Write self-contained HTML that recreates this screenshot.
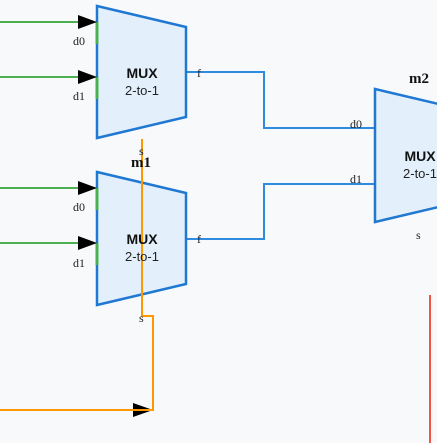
<!DOCTYPE html>
<html><head><meta charset="utf-8"><style>
html,body{margin:0;padding:0;background:#f7f9fb;}
svg{display:block}
.mux{font-family:"Liberation Sans",sans-serif;font-weight:bold;font-size:14px;fill:#111}
.sub{font-family:"Liberation Sans",sans-serif;font-size:13px;fill:#222}
.pin{font-family:"Liberation Serif",serif;font-size:12px;fill:#222}
.ttl{font-family:"Liberation Serif",serif;font-weight:bold;font-size:15px;fill:#111}
</style></head><body>
<svg width="437" height="443" viewBox="0 0 437 443" xmlns="http://www.w3.org/2000/svg">
<rect width="437" height="443" fill="#f7f9fb"/>
<!-- blue wires -->
<polyline points="186,72 264,72 264,128 375,128" fill="none" stroke="#2f8be0" stroke-width="2"/>
<polyline points="186,239 264,239 264,184 375,184" fill="none" stroke="#2f8be0" stroke-width="2"/>
<!-- muxes -->
<polygon points="97,6 186,27 186,117 97,138" fill="#e3f0fc" stroke="#1f78d1" stroke-width="2.5"/>
<polygon points="97,172 186,193 186,284 97,305" fill="#e3f0fc" stroke="#1f78d1" stroke-width="2.5"/>
<polygon points="375,89 464,110 464,201 375,222" fill="#e3f0fc" stroke="#1f78d1" stroke-width="2.5"/>
<!-- green inputs -->
<g stroke="#4caf50" stroke-width="2">
<line x1="0" y1="22" x2="80" y2="22"/><line x1="0" y1="77" x2="80" y2="77"/>
<line x1="0" y1="188" x2="80" y2="188"/><line x1="0" y1="243" x2="80" y2="243"/>
</g>
<g stroke="#4caf50" stroke-width="3">
<line x1="97" y1="22" x2="97" y2="44"/><line x1="97" y1="77" x2="97" y2="99"/>
<line x1="97" y1="188" x2="97" y2="210"/><line x1="97" y1="243" x2="97" y2="265"/>
</g>
<g fill="#000">
<polygon points="78,15 97,22 78,29"/><polygon points="78,70 97,77 78,84"/>
<polygon points="78,181 97,188 78,195"/><polygon points="78,236 97,243 78,250"/>
<polygon points="133,403 153,410 133,417"/>
</g>
<!-- orange -->
<polyline points="142,139 142,316 153,316 153,410 0,410" fill="none" stroke="#ff9800" stroke-width="2"/>
<!-- red -->
<line x1="430" y1="295" x2="430" y2="443" stroke="#f05545" stroke-width="2"/>
<!-- text -->
<text class="mux" x="142" y="78" text-anchor="middle">MUX</text>
<text class="sub" x="142" y="95" text-anchor="middle">2-to-1</text>
<text class="mux" x="142" y="244" text-anchor="middle">MUX</text>
<text class="sub" x="142" y="261" text-anchor="middle">2-to-1</text>
<text class="mux" x="420" y="161" text-anchor="middle">MUX</text>
<text class="sub" x="420" y="178" text-anchor="middle">2-to-1</text>
<text class="pin" x="73" y="45">d0</text><text class="pin" x="73" y="100">d1</text>
<text class="pin" x="73" y="211">d0</text><text class="pin" x="73" y="267">d1</text>
<text class="pin" x="197" y="77">f</text><text class="pin" x="197" y="243">f</text>
<text class="pin" x="350" y="128">d0</text><text class="pin" x="350" y="183">d1</text>
<text class="pin" x="139" y="155">s</text><text class="pin" x="139" y="322">s</text>
<text class="pin" x="416" y="239">s</text>
<text class="ttl" x="141" y="167" text-anchor="middle">m1</text>
<text class="ttl" x="419" y="83" text-anchor="middle">m2</text>
</svg>
</body></html>
